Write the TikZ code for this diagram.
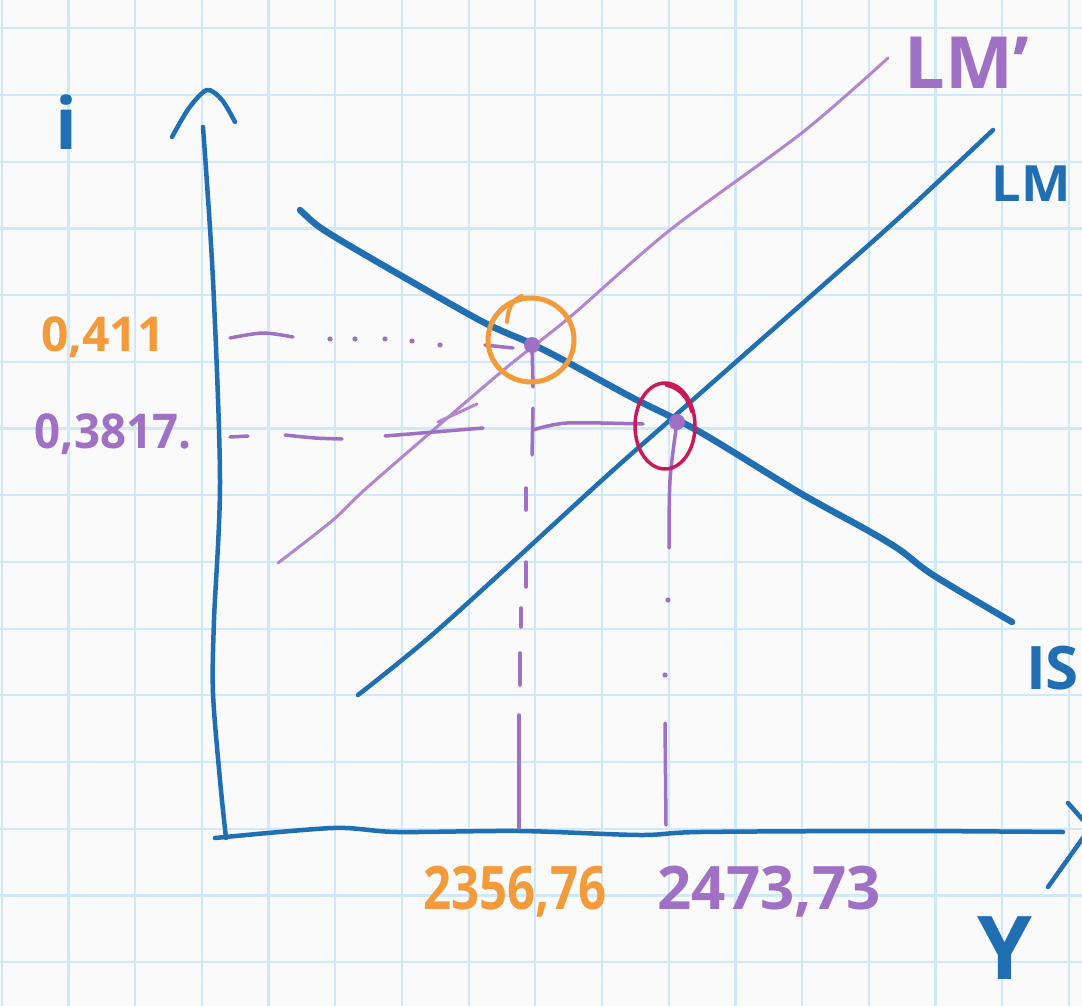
\documentclass[tikz,border=0pt]{standalone}
\usepackage{fontspec}
\setmainfont{Open Sans}
\definecolor{paper}{HTML}{FAFAFA}
\definecolor{gridc}{HTML}{CFE9F8}
\definecolor{inkblue}{HTML}{1F6FB2}
\definecolor{inkpurple}{HTML}{A070C4}
\definecolor{lightpurple}{HTML}{B185D0}
\definecolor{inkorange}{HTML}{F39A3B}
\definecolor{inkred}{HTML}{C8195A}
\begin{document}
\begin{tikzpicture}[x=1pt,y=-1pt,line cap=round,line join=round,
  gridline/.style={draw=gridc,line width=2.2},
  axisln/.style={draw=inkblue,line width=4.5},
  isln/.style={draw=inkblue,line width=6.5},
  lmln/.style={draw=inkblue,line width=4.5},
  lmpln/.style={draw=lightpurple,line width=3},
  dashln/.style={draw=inkpurple,line width=3.5},
  lab/.style={inner sep=0pt,outer sep=0pt,anchor=center}]
\useasboundingbox (0,0) rectangle (1082,1006);
\clip (0,0) rectangle (1082,1006);
\fill[paper] (0,0) rectangle (1082,1006);
% grid paper
\foreach \k in {0,...,16} \draw[gridline] ({1.7+66.7*\k},0) -- ({1.7+66.7*\k},1006);
\foreach \k in {0,...,14} \draw[gridline] (0,{28.3+66.7*\k}) -- (1082,{28.3+66.7*\k});
% equilibrium points
\coordinate (E1) at (532,345);
\coordinate (E2) at (677,422);
% axes
\draw[axisln] plot[smooth] coordinates {(203,127) (213,280) (220,480) (214,620) (213,693) (220,780) (226,838)};
\draw[axisln] plot[smooth] coordinates {(172,137) (189,108) (207,90) (222,100) (235,122)};
\draw[axisln] plot[smooth] coordinates {(215,838) (333,828) (397,832) (520,831) (640,835) (700,832) (900,831) (1063,832)};
\draw[axisln] (1068,803) -- (1090,828) -- (1048,887);
% LM' (purple)
\draw[lmpln] plot[smooth,tension=0.5] coordinates {(278,563) (333,520) (370,485) (500,373) (570,317) (670,230) (803,132) (888,58)};
\draw[lmpln] (438,422) -- (477,404);
% LM (blue)
\draw[lmln] plot[smooth,tension=0.5] coordinates {(358,695) (440,628) (600,482) (670,420) (787,317) (900,217) (993,130)};
% IS (blue, thick)
\draw[isln] plot[smooth,tension=0.5] coordinates {(300,210) (318,226) (345,243) (400,275) (483,322) (530,343) (567,362) (633,398) (700,432) (800,493) (867,530) (900,550) (933,575) (1012,622)};
% dashed guide lines
\draw[dashln] plot[smooth] coordinates {(230,338) (263,333) (293,337)};
\foreach \px/\py in {330/339,355/339,385/339,412/341,440/345}
  \fill[inkpurple] (\px,\py) circle (2.6);
\draw[dashln] (485,345) -- (513,348);
\draw[dashln] (E1) -- (533,387);
\draw[dashln] (230,437) -- (248,436);
\draw[dashln] plot[smooth] coordinates {(285,435) (315,438) (342,439)};
\draw[dashln] (385,436) -- (483,428);
\draw[dashln] plot[smooth] coordinates {(533,430) (567,423) (643,424)};
\draw[dashln] (533,408) -- (532,455);
\draw[dashln] (526,488) -- (526,510);
\draw[dashln] (526,562) -- (526,587);
\draw[dashln] (521,608) -- (521,627);
\draw[dashln] (520,653) -- (520,685);
\draw[dashln] (519,715) -- (519,828);
\draw[dashln] plot[smooth] coordinates {(E2) (670,480) (669,548)};
\fill[inkpurple] (668,600) circle (2.6);
\fill[inkpurple] (665,675) circle (2.6);
\draw[dashln] (665,723) -- (666,825);
% circles around equilibria
\draw[draw=inkorange,line width=5] (531,340) ellipse [x radius=43, y radius=42];
\draw[draw=inkorange,line width=4] (507,322) .. controls (508,306) and (514,299) .. (522,296);
\draw[draw=inkred,line width=3.5] (665,426) ellipse [x radius=30, y radius=43];
\draw[draw=inkred,line width=3.5] (666,385) .. controls (680,388) and (688,398) .. (692,412);
% dots
\fill[inkpurple] (E1) circle (8);
\fill[inkpurple] (E2) circle (8);
% labels
\node[lab,text=inkblue,font=\fontsize{72}{72}\selectfont\bfseries] (lblI) at (66,122) {i};
\node[lab,text=inkblue,font=\fontsize{88}{88}\selectfont\bfseries] (lblY) at (1005,948) {Y};
\node[lab,text=inkblue,font=\fontsize{60}{60}\selectfont\bfseries,anchor=west] (lblIS) at (1026,668) {IS};
\node[lab,text=inkblue,font=\fontsize{50}{50}\selectfont\bfseries,xscale=1.05] (lblLM) at (1031,184) {LM};
\node[lab,text=inkpurple,font=\fontsize{72}{72}\selectfont\bfseries] (lblLMp) at (967,63) {LM'};
\node[lab,text=inkorange,font=\fontsize{48}{48}\selectfont\bfseries] (lblA) at (103,337) {0,411};
\node[lab,text=inkpurple,font=\fontsize{48}{48}\selectfont\bfseries,xscale=0.95] (lblB) at (113,434) {0,3817.};
\node[lab,text=inkorange,font=\fontsize{60}{60}\selectfont\bfseries,xscale=0.82] (lblC) at (515,892) {2356,76};
\node[lab,text=inkpurple,font=\fontsize{60}{60}\selectfont\bfseries,xscale=1.0] (lblD) at (769,892) {2473,73};
\end{tikzpicture}
\end{document}
